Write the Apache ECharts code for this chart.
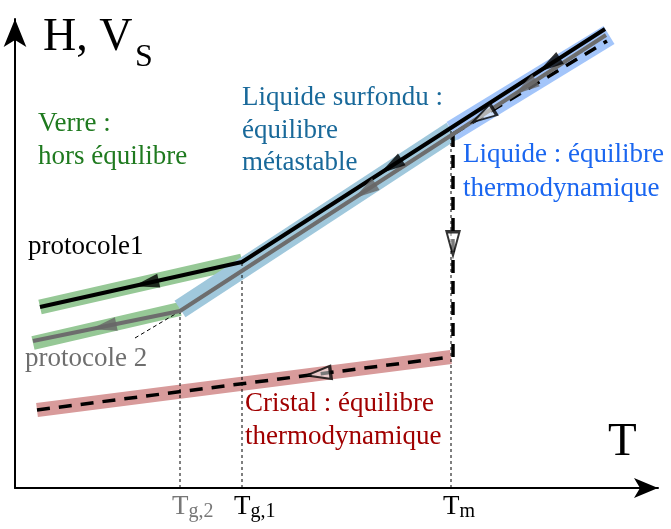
<!DOCTYPE html>
<html>
<head>
<meta charset="utf-8">
<script src="https://cdn.jsdelivr.net/npm/echarts@6/dist/echarts.min.js"></script>
<style>
  html, body { margin: 0; padding: 0; background: #fff; }
  #chart { width: 671px; height: 529px; }
</style>
</head>
<body>
<div id="chart"></div>
<script>
// temperatures (abscisses) des points remarquables
var Tg2 = 165
var Tg1 = 227
var Tm = 436
var tickValues = [Tg2, Tg1, Tm]
var tickNames = ['g,2', 'g,1', 'm']

// courbes H(T)
var protocole1 = [[25, 181], [227, 226], [590, 459]]
var protocole2 = [[18, 147], [165, 177], [591, 453]]
var liquideEq = [[438, 354], [592, 447]]
var cristal = [[22, 78], [436, 131]]
var fusion = [[438, 354], [438, 130]]
var repere = [[120, 150], [162, 175]]

// bandes colorees (domaines)
var bandeVerre1 = [[25, 181], [227, 227]]
var bandeVerre2 = [[18, 145], [165, 179]]
var bandeSurfondu = [[165, 179], [437, 357]]
var bandeLiquide = [[437, 357], [594, 453]]
var bandeCristal = [[22, 78], [436, 131]]

var serif = 'Liberation Serif'

// fleche placee a la fraction t du segment a -> b, orientee de a vers b
function fleche (a, b, t) {
  var x = a[0] + (b[0] - a[0]) * t
  var y = a[1] + (b[1] - a[1]) * t
  var ang = Math.atan2(b[1] - a[1], b[0] - a[0]) * 180 / Math.PI
  return { value: [x, y], symbolRotate: ang - 90 }
}

var flechesNoires = [
  fleche(protocole1[1], protocole1[0], 0.475),
  fleche(protocole1[2], protocole1[1], 0.59),
  fleche(protocole1[2], protocole1[1], 0.154)
]
var flechesGrises = [
  fleche(protocole2[1], protocole2[0], 0.52),
  fleche(protocole2[2], protocole2[1], 0.566),
  fleche(protocole2[2], protocole2[1], 0.19)
]
var flechesOuvertes = [
  fleche(liquideEq[1], liquideEq[0], 0.805),
  fleche(cristal[1], cristal[0], 0.32),
  fleche(fusion[0], fusion[1], 0.49)
]

function trait (data, color, width, type, z) {
  return {
    type: 'line',
    data: data,
    symbol: 'none',
    silent: true,
    z: z,
    lineStyle: { color: color, width: width, type: type || 'solid', cap: 'butt' }
  }
}

function pointille (x, yTop) {
  return trait([[x, 0], [x, yTop]], '#000', 1, [3, 3], 3)
}

var myChart = echarts.init(document.getElementById('chart'))
var option = {
  animation: false,
  grid: { left: 15, right: 13, top: 19, bottom: 41 },
  xAxis: {
    type: 'value',
    min: 0,
    max: 643,
    axisLine: { show: true, symbol: ['none', 'arrow'], symbolSize: [15, 24], lineStyle: { color: '#000', width: 2 } },
    axisTick: { show: false },
    splitLine: { show: false },
    axisLabel: {
      customValues: tickValues,
      align: 'left',
      margin: 4,
      padding: [0, 0, 0, -8],
      formatter: function (v) {
        var i = tickValues.indexOf(v)
        if (i === 0) return '{tg|T}{sg|' + tickNames[i] + '}'
        return '{t|T}{s|' + tickNames[i] + '}'
      },
      rich: {
        t: { fontFamily: serif, fontSize: 27, color: '#000', lineHeight: 30 },
        s: { fontFamily: serif, fontSize: 20, color: '#000', lineHeight: 14, verticalAlign: 'bottom' },
        tg: { fontFamily: serif, fontSize: 27, color: '#777', lineHeight: 30 },
        sg: { fontFamily: serif, fontSize: 20, color: '#777', lineHeight: 14, verticalAlign: 'bottom' }
      }
    }
  },
  yAxis: {
    type: 'value',
    min: 0,
    max: 469,
    axisLine: { show: true, symbol: ['none', 'arrow'], symbolSize: [17, 28], lineStyle: { color: '#000', width: 2 } },
    axisTick: { show: false },
    splitLine: { show: false },
    axisLabel: { show: false }
  },
  series: [
    trait(bandeCristal, '#d89b9b', 14, 'solid', 1),
    trait(bandeVerre1, '#96c896', 15, 'solid', 1),
    trait(bandeVerre2, '#96c896', 14, 'solid', 1),
    trait(bandeSurfondu, '#a0c8dc', 20, 'solid', 2),
    trait(bandeLiquide, '#a3c5fa', 21, 'solid', 2),
    pointille(Tg2, 177),
    pointille(Tg1, 226),
    pointille(Tm, 360),
    trait(repere, '#000', 1, [4, 3], 3),
    trait(cristal, '#000', 3.5, [13, 9], 4),
    trait(liquideEq, '#000', 3.5, [13, 9], 4),
    trait(fusion, '#000', 3.5, [13, 8], 4),
    trait(protocole2, '#6d6d6d', 4, 'solid', 5),
    trait(protocole1, '#000', 4, 'solid', 6),
    {
      type: 'scatter', data: flechesNoires, symbol: 'triangle', symbolSize: [14, 26], silent: true, z: 7,
      itemStyle: { color: '#000' }
    },
    {
      type: 'scatter', data: flechesGrises, symbol: 'triangle', symbolSize: [14, 26], silent: true, z: 7,
      itemStyle: { color: '#666' }
    },
    {
      type: 'scatter', data: flechesOuvertes, symbol: 'triangle', symbolSize: [13, 24], silent: true, z: 7,
      itemStyle: { color: 'rgba(255,255,255,0.6)', borderColor: '#000', borderWidth: 2.5 }
    }
  ],
  graphic: [
    { type: 'text', left: 43, top: 15, style: { text: 'H, V', fontFamily: serif, fontSize: 46, lineHeight: 46, fill: '#000' } },
    { type: 'text', left: 135, top: 42, style: { text: 'S', fontFamily: serif, fontSize: 32, lineHeight: 32, fill: '#000' } },
    { type: 'text', left: 608, top: 419, style: { text: 'T', fontFamily: serif, fontSize: 47, lineHeight: 47, fill: '#000' } },
    { type: 'text', left: 38, top: 107, style: { text: 'Verre :\nhors équilibre', fontFamily: serif, fontSize: 27, lineHeight: 33, fill: '#1f7a1f' } },
    { type: 'text', left: 242, top: 82, style: { text: 'Liquide surfondu :\néquilibre\nmétastable', fontFamily: serif, fontSize: 27, lineHeight: 32.5, fill: '#19699a' } },
    { type: 'text', left: 463, top: 138, style: { text: 'Liquide : équilibre\nthermodynamique', fontFamily: serif, fontSize: 27, lineHeight: 34, fill: '#1a66f0' } },
    { type: 'text', left: 245, top: 387, style: { text: 'Cristal : équilibre\nthermodynamique', fontFamily: serif, fontSize: 27, lineHeight: 33, fill: '#a00000' } },
    { type: 'text', left: 28, top: 230, style: { text: 'protocole1', fontFamily: serif, fontSize: 27, lineHeight: 33, fill: '#000' } },
    { type: 'text', left: 25, top: 342, style: { text: 'protocole 2', fontFamily: serif, fontSize: 27, lineHeight: 33, fill: '#6e6e6e' } }
  ]
}
myChart.setOption(option)
</script>
</body>
</html>
